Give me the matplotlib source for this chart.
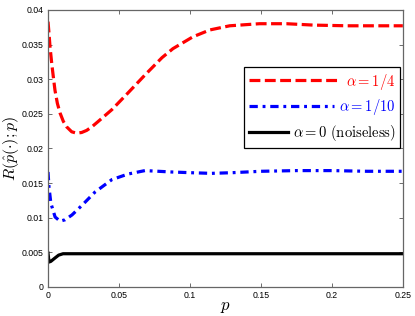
import matplotlib
matplotlib.use("Agg")
import matplotlib.pyplot as plt
from matplotlib.legend_handler import HandlerLine2D

plt.rcParams['mathtext.fontset'] = 'cm'

# Data
p_red = [0.0, 0.0007, 0.0014, 0.0026, 0.0037, 0.0049, 0.0066, 0.0085, 0.0108, 0.0132,
         0.0167, 0.0202, 0.0237, 0.0272, 0.0308, 0.0354, 0.045,
         0.0563, 0.0683, 0.0803, 0.088, 0.102, 0.114, 0.128, 0.149, 0.168, 0.187,
         0.211, 0.232, 0.25]
r_red = [0.0383, 0.0366, 0.0347, 0.0323, 0.0304, 0.0284, 0.0265, 0.0251, 0.0239, 0.0231,
         0.0224, 0.0222, 0.0223, 0.0226, 0.0231, 0.0239, 0.0256,
         0.0280, 0.0306, 0.0331, 0.0344, 0.0361, 0.0371, 0.0377, 0.0380, 0.0380, 0.0378,
         0.0377, 0.0377, 0.0377]

p_blue = [0.0, 0.0007, 0.002, 0.005, 0.0085, 0.012, 0.0169, 0.024, 0.0331, 0.045,
          0.0563, 0.0683, 0.087, 0.1, 0.115, 0.13, 0.15, 0.175, 0.2, 0.225, 0.25]
r_blue = [0.0166, 0.0144, 0.0121, 0.0101, 0.0095, 0.0097, 0.0104, 0.0118, 0.0137, 0.0155,
          0.0163, 0.0168, 0.0166, 0.0165, 0.0164, 0.0165, 0.0167, 0.0168, 0.0168, 0.0167, 0.0167]

p_black = [0.0, 0.0007, 0.002, 0.005, 0.0075, 0.0106, 0.015, 0.05, 0.1, 0.15, 0.2, 0.25]
r_black = [0.0049, 0.0036, 0.0037, 0.0042, 0.0046, 0.0048, 0.0048, 0.0048, 0.0048, 0.0048, 0.0048, 0.0048]

labels = [r'$\alpha = 1/4$', r'$\alpha = 1/10$', r'$\alpha = 0\ (\mathrm{noiseless})$']
xticks = [0, 0.05, 0.1, 0.15, 0.2, 0.25]
xticklabels = ['0', '0.05', '0.1', '0.15', '0.2', '0.25']
yticks = [0, 0.005, 0.01, 0.015, 0.02, 0.025, 0.03, 0.035, 0.04]
yticklabels = ['0', '0.005', '0.01', '0.015', '0.02', '0.025', '0.03', '0.035', '0.04']


class HandlerLen(HandlerLine2D):
    def __init__(self, length, **kw):
        super().__init__(**kw)
        self.length = length

    def legend_artist(self, legend, orig_handle, fontsize, handlebox):
        handlebox.width = self.length * fontsize
        return super().legend_artist(legend, orig_handle, fontsize, handlebox)


fig = plt.figure(figsize=(4.15, 3.16), dpi=100)
ax = fig.add_axes([0.1157, 0.0918, 0.855, 0.877])

l1, = ax.plot(p_red, r_red, color='#ff0000', lw=2.3, dashes=(3.4, 1.4), label=labels[0])
l2, = ax.plot(p_blue, r_blue, color='#0000ff', lw=2.3, dashes=(2.6, 1.5, 0.9, 1.5), label=labels[1])
l3, = ax.plot(p_black, r_black, color='black', lw=2.3, label=labels[2])

ax.set_xlim(0, 0.25)
ax.set_ylim(0, 0.04)
ax.set_xticks(xticks)
ax.set_xticklabels(xticklabels)
ax.set_yticks(yticks)
ax.set_yticklabels(yticklabels)
ax.tick_params(direction='in', top=True, right=True, length=3, width=0.6,
               color='#555555', labelsize=6.3, pad=3)
for t in ax.get_xticklabels() + ax.get_yticklabels():
    t.set_fontfamily('Liberation Sans')
for s in ax.spines.values():
    s.set_color('#666666')
    s.set_linewidth(0.9)

ax.set_xlabel(r'$p$', fontsize=12)
ax.xaxis.set_label_coords(0.5, -0.035)
ax.set_ylabel(r'$R(\hat{p}(\cdot);p)$', fontsize=11.5)
ax.yaxis.set_label_coords(-0.076, 0.5)

FS = 10.5
TEXTPAD = 0.35
ROW_PX = 147.0  # handle + pad + text width target in pixels


def make_legend(lengths):
    leg = ax.legend(handles=[l1, l2, l3], loc='upper left',
                    bbox_to_anchor=(0.553, 0.793), fontsize=FS, frameon=True,
                    fancybox=False, framealpha=1, edgecolor='black',
                    handletextpad=TEXTPAD, borderpad=0.3, labelspacing=0.4,
                    borderaxespad=0,
                    handler_map={l1: HandlerLen(lengths[0]), l2: HandlerLen(lengths[1]),
                                 l3: HandlerLen(lengths[2])})
    leg.get_frame().set_linewidth(0.9)
    for t, c in zip(leg.get_texts(), ['#ff0000', '#0000ff', 'black']):
        t.set_color(c)
    return leg


leg = make_legend([6.0, 6.0, 2.0])
fig.canvas.draw()
r = fig.canvas.get_renderer()
fs_px = FS * fig.dpi / 72.0
widths = [t.get_window_extent(r).width for t in leg.get_texts()]
lengths = [(ROW_PX - w) / fs_px - TEXTPAD for w in widths]
leg.remove()
leg = make_legend(lengths)

fig.savefig('out.png', dpi=100)
